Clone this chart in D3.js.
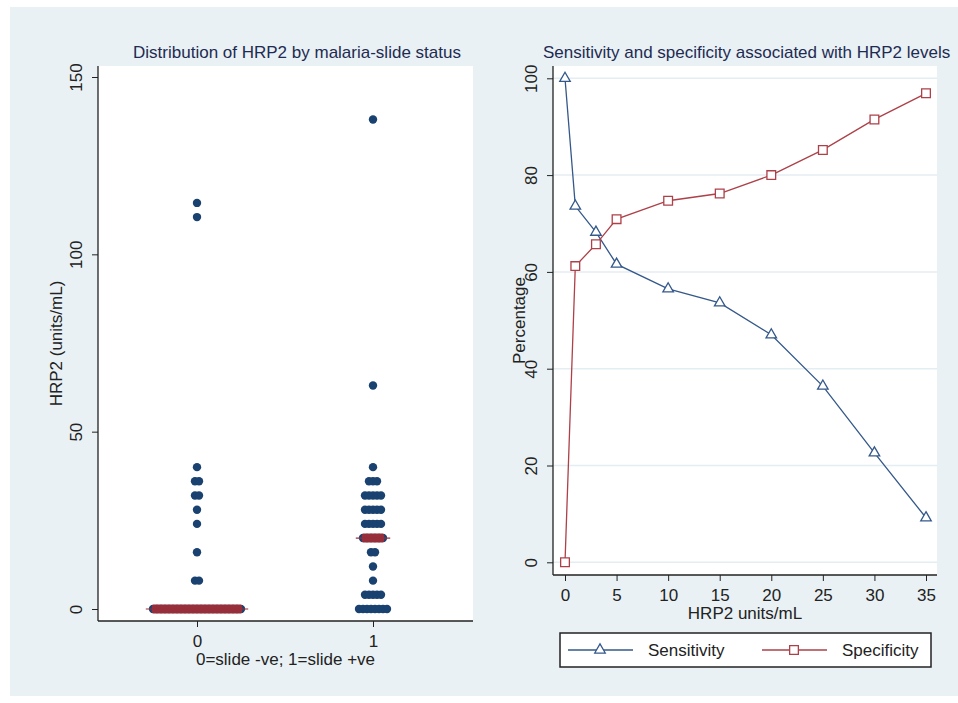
<!DOCTYPE html>
<html>
<head>
<meta charset="utf-8">
<script src="https://cdn.jsdelivr.net/npm/d3@7"></script>
<style>
	body { margin: 0; background: #ffffff; }
	svg { display: block; font-family: "Liberation Sans", Arial, sans-serif; }
</style>
</head>
<body>
<svg id="chart" width="958" height="703"></svg>
<script>
// data

// left: dotplot rows per slide status (value bins and dot counts)
var binsNeg = [0, 8, 16, 24, 28, 32, 36, 40, 110.5, 114.5];
var countsNeg = [23, 2, 1, 1, 1, 2, 2, 1, 1, 1];
var binsPos = [0, 4, 8, 12, 16, 20, 24, 28, 32, 36, 40, 63, 138];
var countsPos = [8, 5, 1, 1, 2, 6, 5, 5, 5, 3, 1, 1, 1];
var medians = [0, 20];
var slideGroups = [0, 1];
var hrpTicks = [0, 50, 100, 150];

// right: sensitivity / specificity by cut-off
var cutoffs = [0, 1, 3, 5, 10, 15, 20, 25, 30, 35];
var sensitivity = [100, 73.6, 68.2, 61.6, 56.5, 53.6, 47.0, 36.4, 22.6, 9.2];
var specificity = [0, 61.2, 65.7, 70.9, 74.7, 76.2, 80.0, 85.2, 91.5, 96.9];
var cutTicks = [0, 5, 10, 15, 20, 25, 30, 35];
var pctTicks = [0, 20, 40, 60, 80, 100];

var navy = '#1a4270';
var maroon = '#962f3b';
var sensColor = '#34588a';
var specColor = '#ad4048';
var titleColor = '#1e2b52';
var fs = '17px';

var svg = d3.select('svg#chart');

// background panel
svg.append('rect')
	.attr('x', 10).attr('y', 7)
	.attr('width', 948).attr('height', 689)
	.style('fill', '#e9f1f4');

// ---------- left panel ----------

var left = { x0: 98, x1: 473, y0: 66, y1: 621 };

svg.append('rect')
	.attr('x', left.x0).attr('y', left.y0)
	.attr('width', left.x1 - left.x0).attr('height', left.y1 - left.y0)
	.style('fill', '#ffffff');

var yHrp = d3.scaleLinear().domain([0, 150]).range([609, 77]);
var xSlide = d3.scaleLinear().domain([0, 1]).range([197, 373]);

var dotR = 4.2;
var dotStep = 4;

var rows = [];
binsNeg.forEach(function (v, i) { rows.push({ g: 0, v: v, n: countsNeg[i] }); });
binsPos.forEach(function (v, i) { rows.push({ g: 1, v: v, n: countsPos[i] }); });

var dots = [];
rows.forEach(function (r) {
	for (var k = 0; k < r.n; k++) {
		dots.push({ g: r.g, v: r.v, off: (k - (r.n - 1) / 2) * dotStep });
	}
});

svg.append('g')
	.selectAll('circle')
	.data(dots)
	.enter()
	.append('circle')
	.attr('cx', function (d) { return xSlide(d.g) + d.off; })
	.attr('cy', function (d) { return yHrp(d.v); })
	.attr('r', dotR)
	.style('fill', navy);

// median markers
var medRows = slideGroups.map(function (g, i) {
	var r = rows.filter(function (d) { return d.g === g && d.v === medians[i]; })[0];
	return { g: g, v: medians[i], w: (r.n - 1) * dotStep + 2 * dotR };
});

var med = svg.append('g').selectAll('g').data(medRows).enter().append('g');

med.append('rect')
	.attr('x', function (d) { return xSlide(d.g) - d.w / 2 + 3; })
	.attr('y', function (d) { return yHrp(d.v) - 4.5; })
	.attr('width', function (d) { return d.w - 6; })
	.attr('height', 9)
	.attr('rx', 2)
	.style('fill', maroon);

med.append('line')
	.attr('x1', function (d) { return xSlide(d.g) - d.w / 2 - 3; })
	.attr('x2', function (d) { return xSlide(d.g) + d.w / 2 + 3; })
	.attr('y1', function (d) { return yHrp(d.v); })
	.attr('y2', function (d) { return yHrp(d.v); })
	.style('stroke', maroon)
	.style('stroke-width', 1.2);

// left axes
var leftY = svg.append('g')
	.attr('transform', 'translate(' + left.x0 + ',0)')
	.call(d3.axisLeft(yHrp).tickValues(hrpTicks).tickSize(6).tickSizeOuter(0));

leftY.select('.domain').attr('d', 'M0,' + left.y0 + 'V' + left.y1);
leftY.selectAll('.tick text')
	.attr('x', null).attr('dy', null)
	.attr('transform', 'translate(-16,0) rotate(-90)')
	.style('text-anchor', 'middle');

var leftX = svg.append('g')
	.attr('transform', 'translate(0,' + left.y1 + ')')
	.call(d3.axisBottom(xSlide).tickValues(slideGroups).tickFormat(d3.format('d')).tickSize(6).tickSizeOuter(0));

leftX.select('.domain').attr('d', 'M' + left.x0 + ',0H' + left.x1);
leftX.selectAll('.tick text').attr('y', 26).attr('dy', null);

svg.append('text')
	.attr('x', (left.x0 + left.x1) / 2).attr('y', 665)
	.style('text-anchor', 'middle')
	.style('font-size', fs)
	.style('fill', '#222')
	.text('0=slide -ve; 1=slide +ve');

svg.append('text')
	.attr('transform', 'translate(62,' + (left.y0 + left.y1) / 2 + ') rotate(-90)')
	.style('text-anchor', 'middle')
	.style('font-size', fs)
	.style('fill', '#222')
	.text('HRP2 (units/mL)');

svg.append('text')
	.attr('x', 297).attr('y', 58)
	.style('text-anchor', 'middle')
	.style('font-size', fs)
	.style('fill', titleColor)
	.text('Distribution of HRP2 by malaria-slide status');

// ---------- right panel ----------

var right = { x0: 553, x1: 937, y0: 66, y1: 575 };

svg.append('rect')
	.attr('x', right.x0).attr('y', right.y0)
	.attr('width', right.x1 - right.x0).attr('height', right.y1 - right.y0)
	.style('fill', '#ffffff');

var xCut = d3.scaleLinear().domain([0, 35]).range([565, 926]);
var yPct = d3.scaleLinear().domain([0, 100]).range([562.3, 78.3]);

// gridlines
svg.append('g')
	.selectAll('line')
	.data(pctTicks)
	.enter()
	.append('line')
	.attr('x1', right.x0).attr('x2', right.x1)
	.attr('y1', function (d) { return yPct(d); })
	.attr('y2', function (d) { return yPct(d); })
	.style('stroke', '#e4edf1')
	.style('stroke-width', 1.5);

var series = [
	{ name: 'Sensitivity', values: sensitivity, color: sensColor, symbol: d3.symbolTriangle, size: 48 },
	{ name: 'Specificity', values: specificity, color: specColor, symbol: d3.symbolSquare, size: 76 }
];

var line = d3.line()
	.x(function (d) { return xCut(d.x); })
	.y(function (d) { return yPct(d.y); });

series.forEach(function (s) {
	var pts = cutoffs.map(function (c, i) { return { x: c, y: s.values[i] }; });

	svg.append('path')
		.datum(pts)
		.attr('d', line)
		.style('fill', 'none')
		.style('stroke', s.color)
		.style('stroke-width', 1.3);

	svg.append('g')
		.selectAll('path')
		.data(pts)
		.enter()
		.append('path')
		.attr('d', d3.symbol().type(s.symbol).size(s.size))
		.attr('transform', function (d) { return 'translate(' + xCut(d.x) + ',' + yPct(d.y) + ')'; })
		.style('fill', '#ffffff')
		.style('stroke', s.color)
		.style('stroke-width', 1.3);
});

// right axes
var rightY = svg.append('g')
	.attr('transform', 'translate(' + right.x0 + ',0)')
	.call(d3.axisLeft(yPct).tickValues(pctTicks).tickSize(6).tickSizeOuter(0));

rightY.select('.domain').attr('d', 'M0,' + right.y0 + 'V' + right.y1);
rightY.selectAll('.tick text')
	.attr('x', null).attr('dy', null)
	.attr('transform', 'translate(-16,0) rotate(-90)')
	.style('text-anchor', 'middle');

var rightX = svg.append('g')
	.attr('transform', 'translate(0,' + right.y1 + ')')
	.call(d3.axisBottom(xCut).tickValues(cutTicks).tickSize(6).tickSizeOuter(0));

rightX.select('.domain').attr('d', 'M' + right.x0 + ',0H' + right.x1);
rightX.selectAll('.tick text').attr('y', 26).attr('dy', null);

svg.selectAll('.tick text').style('font-size', fs).style('font-family', '"Liberation Sans", Arial, sans-serif').style('fill', '#222');
svg.selectAll('.tick line').style('stroke', '#222');
svg.selectAll('.domain').style('stroke', '#222').style('stroke-width', 1.3);

svg.append('text')
	.attr('x', 745).attr('y', 619)
	.style('text-anchor', 'middle')
	.style('font-size', fs)
	.style('fill', '#222')
	.text('HRP2 units/mL');

svg.append('text')
	.attr('transform', 'translate(525,' + (right.y0 + right.y1) / 2 + ') rotate(-90)')
	.style('text-anchor', 'middle')
	.style('font-size', fs)
	.style('fill', '#222')
	.text('Percentage');

svg.append('text')
	.attr('x', 543).attr('y', 58)
	.style('font-size', fs)
	.style('fill', titleColor)
	.text('Sensitivity and specificity associated with HRP2 levels');

// legend
var legend = svg.append('g');

legend.append('rect')
	.attr('x', 560).attr('y', 633)
	.attr('width', 371).attr('height', 34)
	.style('fill', '#ffffff')
	.style('stroke', '#222')
	.style('stroke-width', 1.5);

var legItems = legend.selectAll('g.item')
	.data(series)
	.enter()
	.append('g')
	.attr('class', 'item')
	.attr('transform', function (d, i) { return 'translate(' + (568 + i * 194) + ',650)'; });

legItems.append('line')
	.attr('x1', 0).attr('x2', 65)
	.style('stroke', function (d) { return d.color; })
	.style('stroke-width', 1.3);

legItems.append('path')
	.attr('d', function (d) { return d3.symbol().type(d.symbol).size(d.size)(); })
	.attr('transform', 'translate(32,0)')
	.style('fill', '#ffffff')
	.style('stroke', function (d) { return d.color; })
	.style('stroke-width', 1.3);

legItems.append('text')
	.attr('x', 80).attr('y', 6)
	.style('font-size', fs)
	.style('fill', '#222')
	.text(function (d) { return d.name; });
</script>
</body>
</html>
